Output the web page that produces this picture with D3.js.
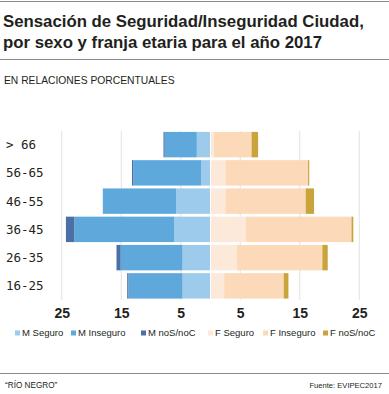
<!DOCTYPE html>
<html>
<head>
<meta charset="utf-8">
<script src="https://cdn.jsdelivr.net/npm/d3@7"></script>
<style>
  html, body { margin: 0; padding: 0; background: #fff; }
  svg { display: block; }
</style>
</head>
<body>
<div id="chart"></div>
<script>
// Age bands, top to bottom
const ageBands = ['> 66', '56-65', '46-55', '36-45', '26-35', '16-25'];

// Male series (drawn to the left)
const mSeguro   = [2.3, 1.6, 5.8, 6.1, 4.7, 4.7];
const mInseguro = [5.4, 11.4, 12.3, 16.8, 10.4, 9.1];
const mNoSNoC   = [0.2, 0.2, 0.0, 1.4, 0.7, 0.2];

// Female series (drawn to the right)
const fSeguro   = [0.6, 2.5, 2.5, 5.9, 4.4, 2.3];
const fInseguro = [6.3, 13.9, 13.5, 17.8, 14.4, 10.0];
const fNoSNoC   = [1.1, 0.2, 1.4, 0.3, 0.9, 0.8];

const tickValues = [-25, -15, -5, 5, 15, 25];
const legendLabels = ['M Seguro', 'M Inseguro', 'M noS/noC', 'F Seguro', 'F Inseguro', 'F noS/noC'];
const colors = ['#9ccbeb', '#5fa8dc', '#4a70a6', '#fde9d9', '#fbd9b9', '#c9a43a'];

const width = 389, height = 394;

const svg = d3.select('#chart').append('svg')
  .attr('width', width)
  .attr('height', height);

const font = "'Liberation Sans', Arial, sans-serif";

// Header rules and titles
svg.append('line').attr('x1', 0).attr('x2', width).attr('y1', 1.5).attr('y2', 1.5)
  .attr('stroke', '#8a8a8a').attr('stroke-width', 1);

const title = svg.append('text')
  .attr('font-family', font)
  .attr('font-weight', 700)
  .attr('font-size', 16.8)
  .attr('fill', '#231f20');
title.append('tspan').attr('x', 3).attr('y', 27).text('Sensación de Seguridad/Inseguridad Ciudad,');
title.append('tspan').attr('x', 3).attr('y', 48).text('por sexo y franja etaria para el año 2017');

svg.append('line').attr('x1', 0).attr('x2', width).attr('y1', 59.5).attr('y2', 59.5)
  .attr('stroke', '#8a8a8a').attr('stroke-width', 1);

svg.append('text')
  .attr('x', 4).attr('y', 84)
  .attr('font-family', font)
  .attr('font-size', 10.3)
  .attr('fill', '#231f20')
  .text('EN RELACIONES PORCENTUALES');

// Scales
const x = d3.scaleLinear().domain([-30, 30]).range([210.5 - 178.5, 210.5 + 178.5]);
const y = d3.scaleBand().domain(ageBands).range([130.5, 300]).paddingInner(0.1).paddingOuter(0.05);

// Gridlines
svg.append('g').selectAll('line')
  .data(tickValues)
  .join('line')
  .attr('x1', d => x(d)).attr('x2', d => x(d))
  .attr('y1', 131).attr('y2', 300)
  .attr('stroke', '#e2e2e2')
  .attr('stroke-width', 1);

// Build stacks
const rows = ageBands.map((band, i) => ({
  band,
  mSeguro: mSeguro[i], mInseguro: mInseguro[i], mNoSNoC: mNoSNoC[i],
  fSeguro: fSeguro[i], fInseguro: fInseguro[i], fNoSNoC: fNoSNoC[i]
}));

const maleStack = d3.stack().keys(['mSeguro', 'mInseguro', 'mNoSNoC'])(rows);
const femaleStack = d3.stack().keys(['fSeguro', 'fInseguro', 'fNoSNoC'])(rows);

const bars = svg.append('g');

maleStack.forEach((layer, li) => {
  bars.append('g').attr('fill', colors[li])
    .selectAll('rect')
    .data(layer)
    .join('rect')
    .attr('x', d => x(-d[1]))
    .attr('width', d => Math.max(0, x(-d[0]) - x(-d[1]) - (li === 0 ? 0.5 : 0)))
    .attr('y', d => y(d.data.band))
    .attr('height', y.bandwidth());
});

femaleStack.forEach((layer, li) => {
  bars.append('g').attr('fill', colors[li + 3])
    .selectAll('rect')
    .data(layer)
    .join('rect')
    .attr('x', d => x(d[0]) + (li === 0 ? 0.5 : 0))
    .attr('width', d => Math.max(0, x(d[1]) - x(d[0]) - (li === 0 ? 0.5 : 0)))
    .attr('y', d => y(d.data.band))
    .attr('height', y.bandwidth());
});

// Category labels
svg.append('g').selectAll('text')
  .data(ageBands)
  .join('text')
  .attr('x', 6)
  .attr('y', d => y(d) + y.bandwidth() / 2)
  .attr('dy', '0.36em')
  .attr('font-family', "'DejaVu Sans Mono', monospace")
  .attr('font-size', 12.5)
  .attr('fill', '#231f20')
  .attr('xml:space', 'preserve')
  .text(d => d);

// X axis tick labels
const xAxis = d3.axisBottom(x)
  .tickValues(tickValues)
  .tickSize(0)
  .tickFormat(d => Math.abs(d));

const axisG = svg.append('g')
  .attr('transform', 'translate(0,305)')
  .call(xAxis);
axisG.select('.domain').remove();
axisG.selectAll('text')
  .attr('font-family', font)
  .attr('font-weight', 700)
  .attr('font-size', 14)
  .attr('fill', '#231f20')
  .attr('dy', '0.71em')
  .attr('y', 3);

// Legend
const legendX = [15, 71, 141, 208, 263, 323];
const legend = svg.append('g').selectAll('g')
  .data(legendLabels)
  .join('g')
  .attr('transform', (d, i) => `translate(${legendX[i]},333)`);
legend.append('rect')
  .attr('x', 0).attr('y', -2.5)
  .attr('width', 5).attr('height', 5)
  .attr('fill', (d, i) => colors[i]);
legend.append('text')
  .attr('x', 7).attr('y', 0).attr('dy', '0.35em')
  .attr('font-family', font)
  .attr('font-size', 9.5)
  .attr('fill', '#231f20')
  .text(d => d);

// Footer
svg.append('line').attr('x1', 0).attr('x2', width).attr('y1', 373.5).attr('y2', 373.5)
  .attr('stroke', '#8a8a8a').attr('stroke-width', 1);
svg.append('text')
  .attr('x', 5).attr('y', 388)
  .attr('font-family', font)
  .attr('font-size', 8.2)
  .attr('fill', '#231f20')
  .text('“RÍO NEGRO”');
svg.append('text')
  .attr('x', 382).attr('y', 388)
  .attr('text-anchor', 'end')
  .attr('font-family', font)
  .attr('font-size', 7.6)
  .attr('fill', '#231f20')
  .text('Fuente: EVIPEC2017');
</script>
</body>
</html>
